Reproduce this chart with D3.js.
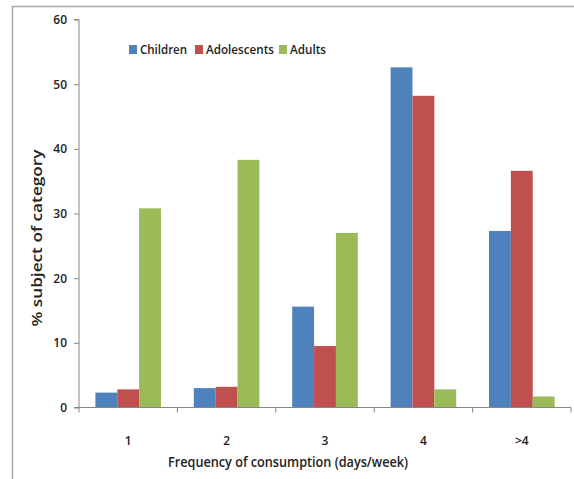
<!DOCTYPE html>
<html><head><meta charset="utf-8">
<script src="https://cdn.jsdelivr.net/npm/d3@7"></script>
<style>body{margin:0;background:#fff}svg{display:block}text{font-family:"Open Sans",sans-serif;font-weight:600;fill:#222}</style>
</head><body><svg id="c" width="574" height="479"></svg>
<script>
const categories = ["1","2","3","4",">4"];
const seriesNames = ["Children","Adolescents","Adults"];
const children = [2.3, 3.0, 15.6, 52.6, 27.3];
const adolescents = [2.8, 3.2, 9.5, 48.2, 36.6];
const adults = [30.8, 38.3, 27.0, 2.8, 1.7];
const yTicks = [0,10,20,30,40,50,60];
const colors = ["#4F81BD","#C0504D","#9BBB59"];
const series = [children, adolescents, adults];

const svg = d3.select("#c");
svg.append("path").attr("d","M12.5,479 L12.5,6.5 L574,6.5").attr("fill","none").attr("stroke","#a6a6a6").attr("stroke-width",1.5);

const x0 = 79, x1 = 571, yTop = 19.5, yBot = 407.5;
const x = d3.scaleBand().domain(categories).range([x0,x1]).paddingInner(0).paddingOuter(0);
const y = d3.scaleLinear().domain([0,60]).range([yBot,yTop]);
const bw = x.bandwidth()/4.5;
const xs = d3.scaleBand().domain(seriesNames).range([0,bw*3]);

seriesNames.forEach((s,i)=>{
  svg.append("g").selectAll("rect").data(categories).join("rect")
    .attr("x",(c)=>x(c)+bw*0.75+xs(s))
    .attr("y",(c,j)=>y(series[i][j]))
    .attr("width",xs.bandwidth())
    .attr("height",(c,j)=>yBot-y(series[i][j]))
    .attr("fill",colors[i]);
});

const ya = svg.append("g").attr("transform",`translate(${x0},0)`)
  .call(d3.axisLeft(y).tickValues(yTicks).tickSize(5).tickPadding(7).tickFormat(d3.format("d")));
ya.select(".domain").attr("stroke","#868686").attr("d",`M-5,${yTop}H0V${yBot}H-5`);
ya.selectAll(".tick line").attr("stroke","#868686");
ya.selectAll("text").style("font-size","12px").attr("fill","#222");

const xa = svg.append("g").attr("transform",`translate(0,${yBot})`);
xa.append("line").attr("x1",x0).attr("x2",x1).attr("y1",0).attr("y2",0).attr("stroke","#868686");
const bounds = categories.map(c=>x(c)).concat([x1]);
xa.selectAll("line.t").data(bounds).join("line").attr("class","t")
  .attr("x1",d=>d).attr("x2",d=>d).attr("y1",0).attr("y2",5).attr("stroke","#868686");
xa.selectAll("text").data(categories).join("text")
  .attr("x",c=>x(c)+x.bandwidth()/2).attr("y",37).attr("text-anchor","middle")
  .style("font-size","12px").text(d=>d);

svg.append("text").attr("x",288).attr("y",467).attr("text-anchor","middle")
  .style("font-size","14px").attr("textLength",240).attr("lengthAdjust","spacingAndGlyphs")
  .text("Frequency of consumption (days/week)");
svg.append("text").attr("transform","translate(42,238) rotate(-90)").attr("text-anchor","middle")
  .style("font-size","14px").attr("textLength",177).attr("lengthAdjust","spacingAndGlyphs")
  .text("% subject of category");

const legX = [129, 195, 279];
const leg = svg.append("g");
seriesNames.forEach((s,i)=>{
  leg.append("rect").attr("x",legX[i]).attr("y",45).attr("width",8).attr("height",9).attr("fill",colors[i]);
  leg.append("text").attr("x",legX[i]+11).attr("y",54).style("font-size","13px")
    .attr("textLength",[47,68,36][i]).attr("lengthAdjust","spacingAndGlyphs").text(s);
});
</script></body></html>
